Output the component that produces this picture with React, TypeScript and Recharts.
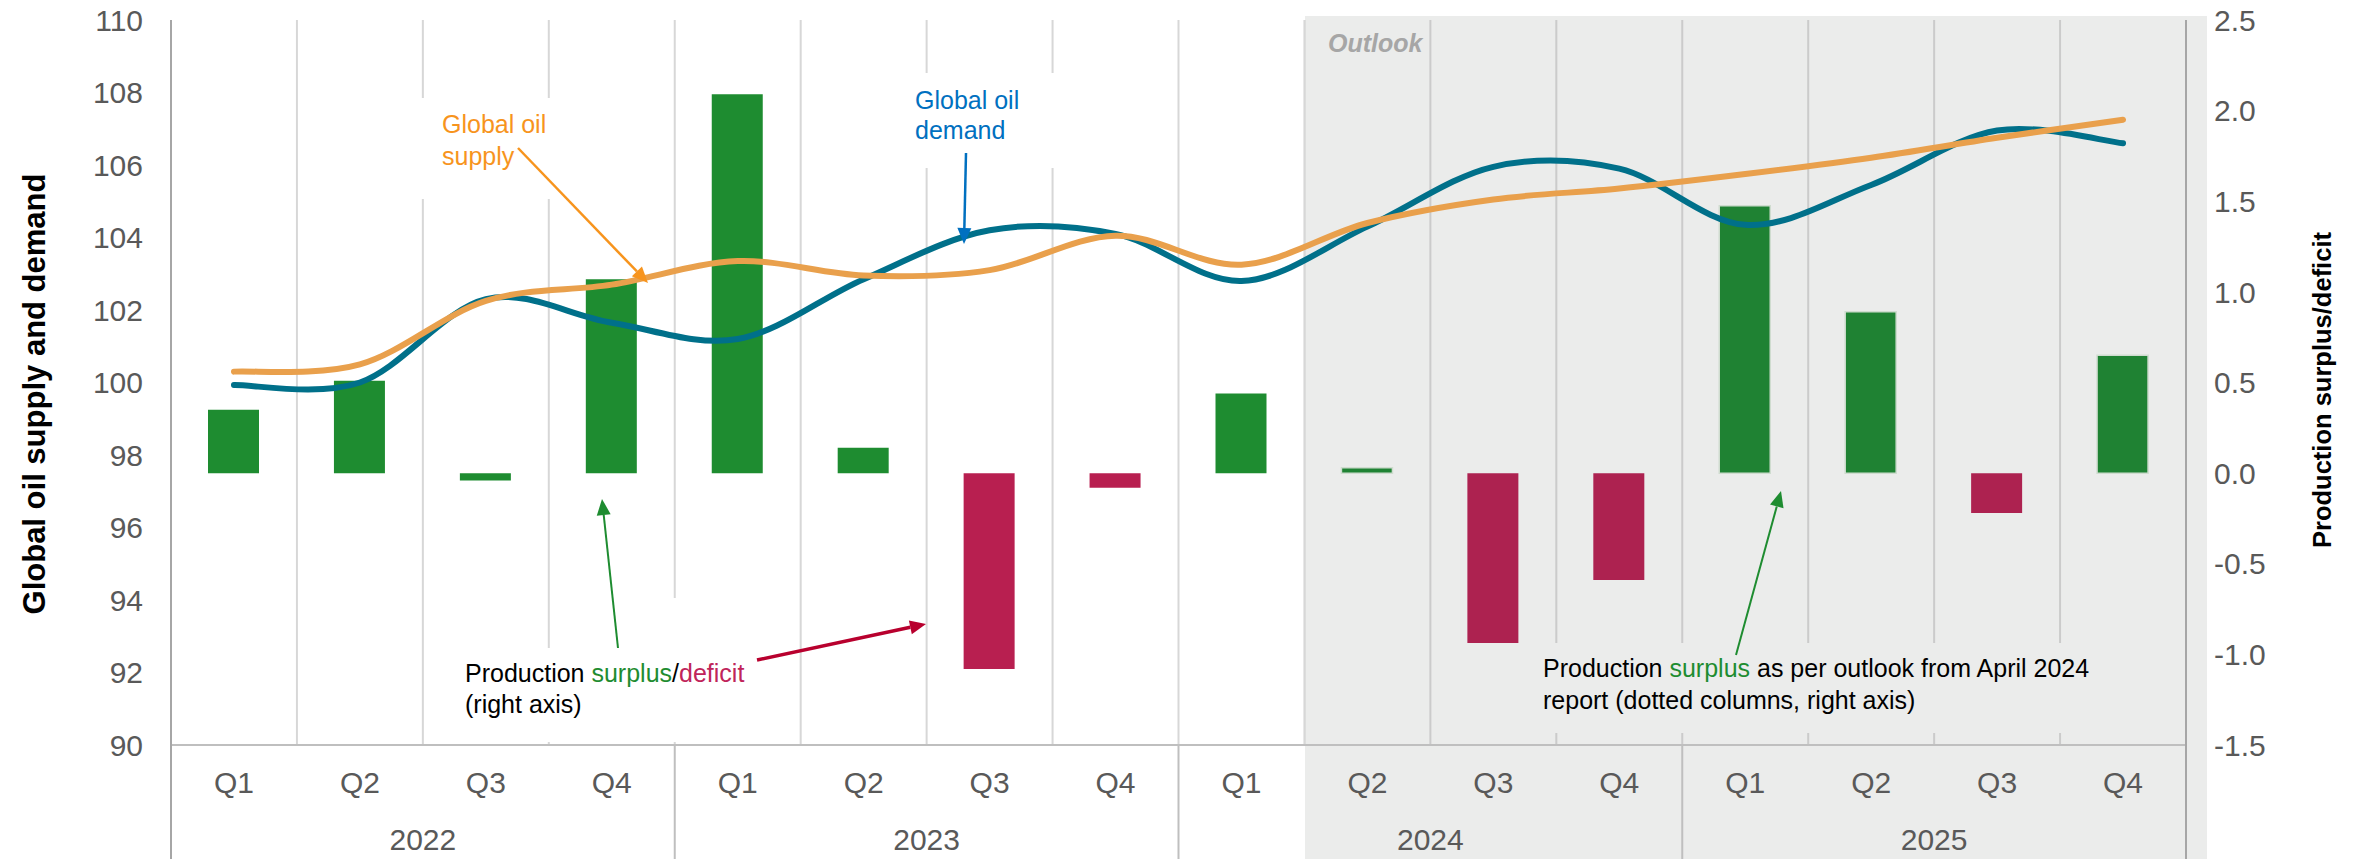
import React from "react";
import { ComposedChart, Bar, Line, XAxis, YAxis, CartesianGrid, Cell } from "recharts";

const QUARTERS = ["Q1", "Q2", "Q3", "Q4", "Q1", "Q2", "Q3", "Q4", "Q1", "Q2", "Q3", "Q4", "Q1", "Q2", "Q3", "Q4"];
const YEARS = ["2022", "2023", "2024", "2025"];
// mb/d, left axis
const SUPPLY = [100.3, 100.5, 102.25, 102.7, 103.35, 102.95, 103.1, 104.05, 103.25, 104.4, 105.05, 105.35, 105.75, 106.2, 106.75, 107.25];
const DEMAND = [99.93, 100.0, 102.3, 101.65, 101.2, 102.85, 104.2, 104.1, 102.8, 104.3, 105.95, 105.9, 104.35, 105.45, 106.95, 106.6];
// production surplus/deficit, right axis
const BALANCE = [0.35, 0.51, -0.04, 1.07, 2.09, 0.14, -1.08, -0.08, 0.44, 0.03, -0.94, -0.59, 1.475, 0.89, -0.22, 0.65];
// how each column is coloured in the source (s = surplus green, d = deficit red)
const BAR_KIND = ["s", "s", "s", "s", "s", "s", "d", "d", "s", "s", "d", "d", "s", "s", "d", "s"];
const LEFT_TICKS = [90, 92, 94, 96, 98, 100, 102, 104, 106, 108, 110];
const RIGHT_TICKS = [-1.5, -1, -0.5, 0, 0.5, 1, 1.5, 2, 2.5];
const OUTLOOK_START = 9;

const W = 2361, H = 859;
const FONT = "'Liberation Sans', Arial, sans-serif";
const AXIS_GREY = "#595959";
const SHADE = "#EBECEB";

const rows = QUARTERS.map((q, i) => ({
  id: `${YEARS[Math.floor(i / 4)]} ${q}`,
  supply: SUPPLY[i],
  demand: DEMAND[i],
  balance: BALANCE[i],
  kind: BAR_KIND[i],
}));

const barFill = (kind: string, i: number) =>
  i >= OUTLOOK_START ? (kind === "s" ? "#1F8233" : "#AD2250") : (kind === "s" ? "#1E8C30" : "#B81F50");

// excel-like smoothed line (catmull-rom through the points)
const smooth = (ctx: any) => {
  let pts: number[][] = [];
  return {
    areaStart() {},
    areaEnd() {},
    lineStart() { pts = []; },
    point(x: number, y: number) { pts.push([+x, +y]); },
    lineEnd() {
      const n = pts.length;
      if (!n) return;
      ctx.moveTo(pts[0][0], pts[0][1]);
      for (let i = 0; i < n - 1; i++) {
        const p0 = pts[Math.max(0, i - 1)], p1 = pts[i], p2 = pts[i + 1], p3 = pts[Math.min(n - 1, i + 2)];
        ctx.bezierCurveTo(
          p1[0] + (p2[0] - p0[0]) / 6, p1[1] + (p2[1] - p0[1]) / 6,
          p2[0] - (p3[0] - p1[0]) / 6, p2[1] - (p3[1] - p1[1]) / 6,
          p2[0], p2[1]
        );
      }
    },
  };
};

const BAND = (2186 - 171) / 16;

function QuarterTick({ x, y, index }: any) {
  return (
    <g fontFamily={FONT}>
      <text x={x} y={y + 48} textAnchor="middle" fontSize={30} fill={AXIS_GREY}>{QUARTERS[index]}</text>
      {index % 4 === 1 && (
        <text x={x + BAND / 2} y={y + 105} textAnchor="middle" fontSize={30} fill={AXIS_GREY}>
          {YEARS[(index - 1) / 4]}
        </text>
      )}
      {index % 4 === 0 && index > 0 && (
        <line x1={x - BAND / 2} x2={x - BAND / 2} y1={y} y2={H} stroke="#BFBFBF" strokeWidth={2} />
      )}
    </g>
  );
}

function Arrow({ x1, y1, x2, y2, color, w }: any) {
  const a = Math.atan2(y2 - y1, x2 - x1);
  const L = 16, hw = 7;
  const bx = x2 - L * Math.cos(a), by = y2 - L * Math.sin(a);
  const px = -Math.sin(a) * hw, py = Math.cos(a) * hw;
  return (
    <g>
      <line x1={x1} y1={y1} x2={bx} y2={by} stroke={color} strokeWidth={w} />
      <polygon points={`${x2},${y2} ${bx + px},${by + py} ${bx - px},${by - py}`} fill={color} />
    </g>
  );
}

export default function App() {
  return (
    <div style={{ position: "absolute", left: 0, top: 0, width: W, height: H, background: "#fff", fontFamily: FONT }}>
      <div style={{ position: "absolute", left: 1305, top: 16, width: 902, height: H - 16, background: SHADE }} />
      <div style={{ position: "absolute", left: 0, top: 0 }}>
        <ComposedChart width={W} height={H} data={rows} margin={{ top: 20, right: 75, bottom: 0, left: 71 }}>
          <CartesianGrid
            horizontal={false}
            stroke="#9A9A9A"
            strokeOpacity={0.4}
            strokeWidth={2}
            verticalCoordinatesGenerator={({ offset }: any) => {
              const left = offset?.left ?? 171;
              const width = offset?.width ?? 2015;
              return Array.from({ length: 15 }, (_, i) => left + ((i + 1) * width) / 16);
            }}
          />
          <XAxis
            dataKey="id"
            height={114}
            interval={0}
            tickLine={false}
            tickSize={0}
            tickMargin={0}
            axisLine={{ stroke: "#BFBFBF", strokeWidth: 2 }}
            tick={<QuarterTick />}
          />
          <YAxis
            yAxisId="left"
            width={100}
            domain={[90, 110]}
            ticks={LEFT_TICKS}
            interval={0}
            tickLine={false}
            tickSize={0}
            tickMargin={28}
            axisLine={{ stroke: "#A6A6A6", strokeWidth: 2 }}
            tick={{ fontSize: 30, fill: AXIS_GREY, fontFamily: FONT }}
          />
          <YAxis
            yAxisId="right"
            orientation="right"
            width={100}
            domain={[-1.5, 2.5]}
            ticks={RIGHT_TICKS}
            interval={0}
            tickLine={false}
            tickSize={0}
            tickMargin={28}
            axisLine={{ stroke: "#A6A6A6", strokeWidth: 2 }}
            tickFormatter={(v: number) => v.toFixed(1)}
            tick={{ fontSize: 30, fill: AXIS_GREY, fontFamily: FONT, textAnchor: "start" }}
          />
          <Bar yAxisId="right" dataKey="balance" barSize={51} isAnimationActive={false}>
            {rows.map((r, i) => (
              <Cell
                key={r.id}
                fill={barFill(r.kind, i)}
                stroke={i >= OUTLOOK_START && r.kind === "s" ? "#cfdccf" : "none"}
                strokeWidth={1.5}
              />
            ))}
          </Bar>
          <Line yAxisId="left" dataKey="demand" type={smooth as any} stroke="#00708A" strokeWidth={6}
            strokeLinecap="round" dot={false} activeDot={false} isAnimationActive={false} />
          <Line yAxisId="left" dataKey="supply" type={smooth as any} stroke="#E9A04C" strokeWidth={6}
            strokeLinecap="round" dot={false} activeDot={false} isAnimationActive={false} />
        </ComposedChart>
      </div>

      <svg width={W} height={H} style={{ position: "absolute", left: 0, top: 0, pointerEvents: "none" }} fontFamily={FONT}>
        {/* axis lines run on below the category axis */}
        <line x1={171} x2={171} y1={745} y2={H} stroke="#A6A6A6" strokeWidth={2} />
        <line x1={2186} x2={2186} y1={745} y2={H} stroke="#A6A6A6" strokeWidth={2} />

        {/* label backgrounds that break the gridlines */}
        <rect x={405} y={98} width={160} height={101} fill="#fff" />
        <rect x={905} y={73} width={165} height={95} fill="#fff" />
        <rect x={455} y={648} width={330} height={94} fill="#fff" />
        <rect x={665} y={598} width={20} height={52} fill="#fff" />
        <rect x={1440} y={643} width={635} height={90} fill={SHADE} />

        <text x={1328} y={52} fontSize={25} fontWeight="bold" fontStyle="italic" fill="#A6A6A6">Outlook</text>

        <text x={442} y={133} fontSize={25} fill="#F7941D">Global oil</text>
        <text x={442} y={165} fontSize={25} fill="#F7941D">supply</text>
        <Arrow x1={518} y1={148} x2={648} y2={283} color="#F7941D" w={2.5} />

        <text x={915} y={109} fontSize={25} fill="#0070C0">Global oil</text>
        <text x={915} y={139} fontSize={25} fill="#0070C0">demand</text>
        <Arrow x1={966} y1={153} x2={964} y2={244} color="#0070C0" w={2.5} />

        <text x={465} y={682} fontSize={25} fill="#000">
          Production <tspan fill="#1E8C30">surplus</tspan>/<tspan fill="#C0245A">deficit</tspan>
        </text>
        <text x={465} y={713} fontSize={25} fill="#000">(right axis)</text>
        <Arrow x1={618} y1={648} x2={602} y2={499} color="#1E8C30" w={2} />
        <Arrow x1={757} y1={660} x2={926} y2={624} color="#B8002E" w={3.5} />

        <text x={1543} y={677} fontSize={25} fill="#000">
          Production <tspan fill="#1E8C30">surplus</tspan> as per outlook from April 2024
        </text>
        <text x={1543} y={709} fontSize={25} fill="#000">report (dotted columns, right axis)</text>
        <Arrow x1={1736} y1={655} x2={1781} y2={491} color="#1E8C30" w={2} />

        <text transform="translate(45 394) rotate(-90)" textAnchor="middle" fontSize={31} fontWeight="bold" fill="#000">
          Global oil supply and demand
        </text>
        <text transform="translate(2331 390) rotate(-90)" textAnchor="middle" fontSize={25.5} fontWeight="bold" fill="#000">
          Production surplus/deficit
        </text>
      </svg>
    </div>
  );
}
